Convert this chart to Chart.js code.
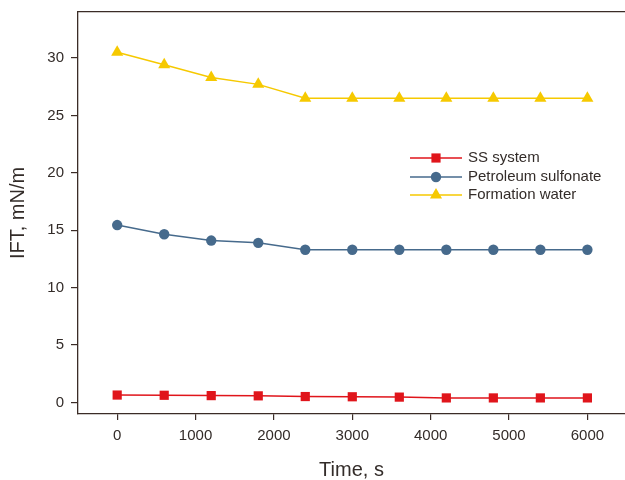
<!DOCTYPE html>
<html>
<head>
<meta charset="utf-8">
<script src="https://cdn.jsdelivr.net/npm/chart.js@4.4.1/dist/chart.umd.min.js"></script>
<style>
  html, body { margin: 0; padding: 0; background: #fff; }
  #wrap { width: 625px; height: 480px; }
</style>
</head>
<body>
<div id="wrap"><canvas id="ift-chart"></canvas></div>
<script>
// data
var timeSec = [0, 600, 1200, 1800, 2400, 3000, 3600, 4200, 4800, 5400, 6000];
var ssSystem = [0.65, 0.63, 0.6, 0.58, 0.52, 0.5, 0.47, 0.4, 0.4, 0.4, 0.4];
var petroleumSulfonate = [15.45, 14.65, 14.1, 13.9, 13.3, 13.3, 13.3, 13.3, 13.3, 13.3, 13.3];
var formationWater = [30.5, 29.4, 28.3, 27.7, 26.5, 26.5, 26.5, 26.5, 26.5, 26.5, 26.5];
var seriesNames = ['SS system', 'Petroleum sulfonate', 'Formation water'];
var xTicks = [0, 1000, 2000, 3000, 4000, 5000, 6000];
var yTicks = [0, 5, 10, 15, 20, 25, 30];

var axisColor = '#3b2c27';
var textColor = '#332c29';
var fontFamily = '"Liberation Sans", Arial, sans-serif';

function pts(ys) {
    return ys.map(function (y, i) { return { x: timeSec[i], y: y }; });
}

// no auto padding for tick labels, the plot box is fixed like the figure
function noPad(s) {
    s.paddingLeft = 0;
    s.paddingRight = 0;
    s.paddingTop = 0;
    s.paddingBottom = 0;
}

// legend drawn inside the plot area, like the original figure
var innerLegend = {
    id: 'innerLegend',
    afterDatasetsDraw: function (chart) {
        var ctx = chart.ctx;
        var x0 = 410, x1 = 462, tx = 468;
        var rows = [158, 177, 195];
        ctx.save();
        chart.data.datasets.forEach(function (ds, i) {
            var y = rows[i];
            ctx.strokeStyle = ds.borderColor;
            ctx.lineWidth = ds.borderWidth;
            ctx.beginPath();
            ctx.moveTo(x0, y);
            ctx.lineTo(x1, y);
            ctx.stroke();
            ctx.fillStyle = ds.pointBackgroundColor;
            ctx.strokeStyle = ds.pointBackgroundColor;
            Chart.helpers.drawPoint(ctx, {
                pointStyle: ds.pointStyle, radius: ds.pointRadius, rotation: 0, borderWidth: 0
            }, (x0 + x1) / 2, y);
            ctx.fillStyle = textColor;
            ctx.font = '15px ' + fontFamily;
            ctx.textBaseline = 'middle';
            ctx.textAlign = 'left';
            ctx.fillText(ds.label, tx, y);
        });
        ctx.restore();
    }
};

var ctx = document.getElementById('ift-chart').getContext('2d');
var iftChart = new Chart(ctx, {
    type: 'line',
    data: {
        datasets: [{
            label: seriesNames[0],
            data: pts(ssSystem),
            borderColor: '#e0151b',
            backgroundColor: '#e0151b',
            pointBackgroundColor: '#e0151b',
            pointBorderWidth: 0,
            pointStyle: 'rect',
            pointRadius: 6.5,
            borderWidth: 1.5
        }, {
            label: seriesNames[1],
            data: pts(petroleumSulfonate),
            borderColor: '#466a8c',
            backgroundColor: '#466a8c',
            pointBackgroundColor: '#466a8c',
            pointBorderWidth: 0,
            pointStyle: 'circle',
            pointRadius: 5.2,
            borderWidth: 1.5
        }, {
            label: seriesNames[2],
            data: pts(formationWater),
            borderColor: '#f6c900',
            backgroundColor: '#f6c900',
            pointBackgroundColor: '#f6c900',
            pointBorderWidth: 0,
            pointStyle: 'triangle',
            pointRadius: 7,
            borderWidth: 1.5
        }]
    },
    options: {
        responsive: true,
        maintainAspectRatio: false,
        animation: false,
        layout: { padding: 0, autoPadding: false },
        plugins: {
            legend: { display: false },
            tooltip: { enabled: false }
        },
        scales: {
            x: {
                type: 'linear',
                position: 'bottom',
                min: -500,
                max: 6480,
                afterBuildTicks: function (s) { s.ticks = xTicks.map(function (v) { return { value: v }; }); },
                afterFit: function (s) { s.height = 66; noPad(s); },
                border: { color: axisColor, width: 1.3 },
                grid: { drawOnChartArea: false, drawTicks: true, tickLength: 6, color: axisColor, lineWidth: 1.2 },
                ticks: {
                    color: textColor, padding: 7, maxRotation: 0,
                    font: { family: fontFamily, size: 15 },
                    callback: function (v) { return String(v); }
                },
                title: {
                    display: true,
                    text: 'Time, s',
                    color: textColor,
                    padding: { top: 0, bottom: 0 },
                    font: { family: fontFamily, size: 20, lineHeight: 1 }
                }
            },
            xTop: {
                type: 'linear',
                position: 'top',
                min: -500,
                max: 6480,
                afterFit: function (s) { s.height = 12; noPad(s); },
                border: { color: axisColor, width: 1.3 },
                grid: { display: false, drawTicks: false },
                ticks: { display: false }
            },
            y: {
                type: 'linear',
                min: -1,
                max: 34,
                afterBuildTicks: function (s) { s.ticks = yTicks.map(function (v) { return { value: v }; }); },
                afterFit: function (s) { s.width = 78; noPad(s); },
                border: { color: axisColor, width: 1.3 },
                grid: { drawOnChartArea: false, drawTicks: true, tickLength: 7, color: axisColor, lineWidth: 1.2 },
                ticks: { color: textColor, padding: 7, font: { family: fontFamily, size: 15 } },
                title: {
                    display: true,
                    text: 'IFT, mN/m',
                    color: textColor,
                    padding: { top: 8, bottom: 0 },
                    font: { family: fontFamily, size: 20, lineHeight: 1 }
                }
            }
        }
    },
    plugins: [innerLegend]
});
</script>
</body>
</html>
